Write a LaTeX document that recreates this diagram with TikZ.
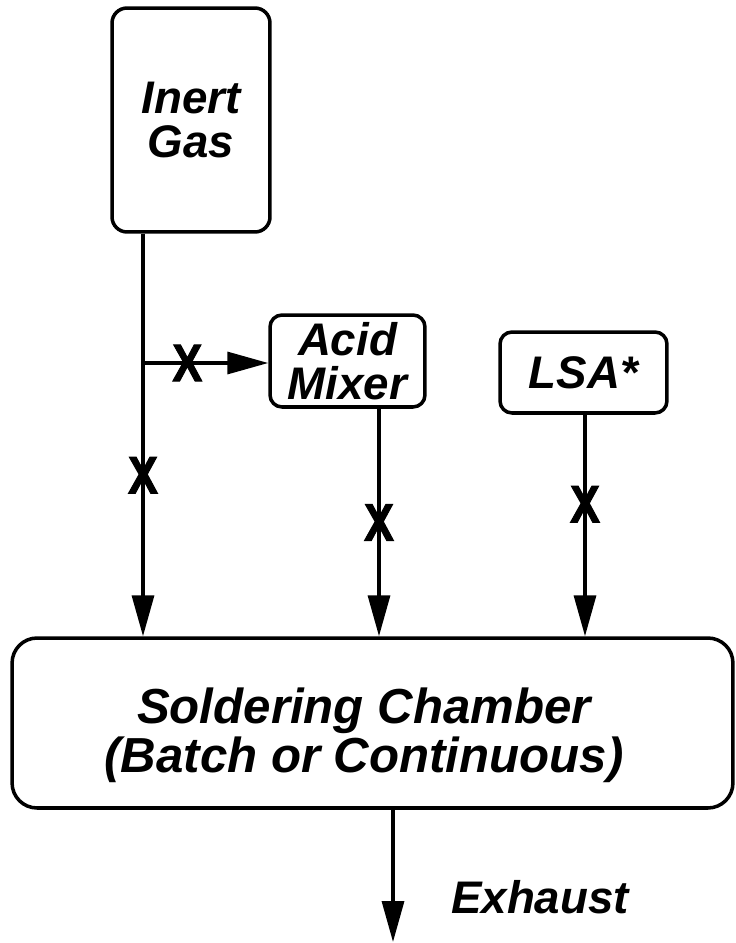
\documentclass[tikz,border=0pt]{standalone}
\usepackage{fontspec}
\setmainfont{Liberation Sans}
\newfontface\valveface{Liberation Sans Bold}[FakeBold=2]
\usepackage{graphicx}
\usetikzlibrary{arrows.meta}
\newcommand{\unitfont}{\fontsize{26}{25}\selectfont\bfseries\itshape}
\newcommand{\valvefont}{\fontsize{30}{30}\selectfont\valveface}
\tikzset{
  unit/.style={draw,line width=2pt,align=center,inner sep=0pt,font=\unitfont},
  flow/.style={line width=1.9pt,-{Triangle[length=0.82cm,width=0.44cm]}},
  valve/.style={inner sep=0pt,font=\valvefont}
}

\begin{document}
\begin{tikzpicture}[x=0.02cm,y=-0.02cm]
        \useasboundingbox (0,0) rectangle (735,943);
        \node[unit,rounded corners=0.3cm,minimum width=3.16cm,minimum height=4.48cm] (gas) at (191,120) {Inert\\Gas};
        \node[unit,rounded corners=0.24cm,minimum width=3.1cm,minimum height=1.84cm] (mixer) at (347.5,361) {Acid\\Mixer};
        \node[unit,rounded corners=0.24cm,minimum width=3.34cm,minimum height=1.62cm] (lsa) at (583.5,372.5) {LSA*};
        \node[unit,rounded corners=0.5cm,minimum width=14.42cm,minimum height=3.4cm] (chamber) at (372.5,723) {};
        \node[font=\fontsize{28}{28}\selectfont\bfseries\itshape,align=center] (chamberlabel) at (364,735) {Soldering Chamber\\(Batch or Continuous)};
        \coordinate (tee) at (143,363);
        \coordinate (acid) at (379,400);
        \coordinate (aux) at (585,413);
        \coordinate (vent) at (393,942);
        \draw[flow] (gas.south -| tee) -- node[valve,pos=0.6] (v1) {\scalebox{0.85}[1]{X}} (chamber.north -| tee);
        \draw[flow] (tee) -- node[valve,pos=0.354] (v2) {\scalebox{0.85}[1]{X}} (mixer.west |- tee);
        \draw[flow] (mixer.south -| acid) -- node[valve,pos=0.5] (v3) {\scalebox{0.85}[1]{X}} (chamber.north -| acid);
        \draw[flow] (lsa.south -| aux) -- node[valve,pos=0.404] (v4) {\scalebox{0.85}[1]{X}} (chamber.north -| aux);
        \draw[flow] (chamber.south -| vent) -- (vent);
        \node[font=\unitfont] (exhaust) at (540,897) {Exhaust};
      \end{tikzpicture}
\end{document}
